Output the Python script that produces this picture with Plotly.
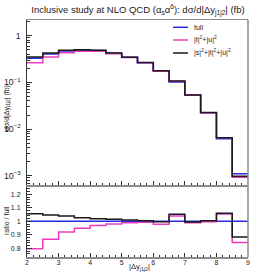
import plotly.graph_objects as go

# bin edges of |Δy_j1j2|
edges = [2.0, 2.5, 3.0, 3.5, 4.0, 4.5, 5.0, 5.5, 6.0, 6.5, 7.0, 7.5, 8.0, 8.5, 9.0]
# full cross section per bin (fb)
full = [0.33, 0.405, 0.47, 0.487, 0.48, 0.42, 0.344, 0.264, 0.178, 0.102, 0.054, 0.0225, 0.0062, 0.0011]
# ratios to full
ratio_tu = [0.797, 0.867, 0.921, 0.948, 0.970, 0.980, 0.990, 0.993, 0.978, 1.039, 0.990, 0.997, 1.054, 0.844]
ratio_stu = [1.056, 1.047, 1.039, 1.027, 1.019, 1.015, 1.010, 1.005, 0.997, 1.052, 0.995, 1.005, 1.059, 0.884]

tu = [f * r for f, r in zip(full, ratio_tu)]
stu = [f * r for f, r in zip(full, ratio_stu)]
ratio_full = [1.0] * len(full)

C_FULL = "rgb(40,40,235)"
C_TU = "rgb(235,60,190)"
C_STU = "rgb(25,25,25)"
FONT = "Liberation Sans, Arial, sans-serif"


def step(vals):
    return list(edges), list(vals) + [vals[-1]]


fig = go.Figure()
for vals, col, xa, ya in [
    (full, C_FULL, "x", "y"), (tu, C_TU, "x", "y"), (stu, C_STU, "x", "y"),
    (ratio_full, C_FULL, "x2", "y2"), (ratio_tu, C_TU, "x2", "y2"), (ratio_stu, C_STU, "x2", "y2"),
]:
    xs, ys = step(vals)
    fig.add_trace(go.Scatter(x=xs, y=ys, mode="lines", line=dict(color=col, width=1.5, shape="hv"),
                             xaxis=xa, yaxis=ya, showlegend=False, hoverinfo="skip"))

W, H = 276, 275
ml, mr, mt, mb = 27, 28, 20, 18
ph = H - mt - mb
pw = W - ml - mr
main_bot = (H - mb - 185) / ph
ratio_top = (H - mb - 187) / ph

tickfont = dict(family=FONT, size=7, color="#222")
xcommon = dict(range=[2, 9], showgrid=False, zeroline=False, ticks="inside", ticklen=4,
               tickcolor="#333", dtick=1, tick0=2, showline=True, linecolor="#8a8a8a", linewidth=1.5,
               mirror=True, minor=dict(ticks="inside", ticklen=2, dtick=0.2, tickcolor="#333", showgrid=False))

fig.update_layout(
    width=W, height=H, margin=dict(l=ml, r=mr, t=mt, b=mb, autoexpand=False),
    plot_bgcolor="white", paper_bgcolor="white",
    title=dict(text="Inclusive study at NLO QCD (α<sub>s</sub>α<sup>6</sup>): dσ/d|Δy<sub>j1j2</sub>| (fb)",
               x=0.5, xanchor="center", y=1 - 10 / H, yanchor="middle",
               font=dict(family=FONT, size=9.5, color="#222")),
    xaxis=dict(domain=[0, 1], anchor="y", showticklabels=False, **xcommon),
    xaxis2=dict(domain=[0, 1], anchor="y2", matches="x", showticklabels=True, tickfont=tickfont,
                ticklabelstandoff=-2, **xcommon),
    yaxis=dict(domain=[main_bot, 1], anchor="x", type="log", range=[-3.197, 0.336],
               dtick=1, exponentformat="power", showgrid=False, zeroline=False,
               ticks="inside", ticklen=5, tickcolor="#333", tickfont=tickfont, ticklabelstandoff=4,
               showline=True, linecolor="#333", linewidth=1,
               minor=dict(ticks="inside", ticklen=2.5, tickcolor="#333", showgrid=False)),
    yaxis2=dict(domain=[0, ratio_top], anchor="x2", range=[0.736, 1.254],
                tickvals=[0.8, 0.9, 1.0, 1.1, 1.2], ticktext=["0.8", "0.9", "1", "1.1", "1.2"],
                showgrid=False, zeroline=False, ticks="inside", ticklen=5, tickcolor="#333",
                tickfont=tickfont, ticklabelstandoff=4, showline=True, linecolor="#333", linewidth=1,
                minor=dict(ticks="inside", ticklen=2.5, dtick=0.02, tickcolor="#333", showgrid=False)),
)

# right frame edge (gray)
fig.add_shape(type="line", xref="paper", yref="paper", x0=1, x1=1, y0=0, y1=1,
              line=dict(color="#8a8a8a", width=1.5))

# axis titles
fig.add_annotation(text="dσ/d|Δy<sub>j1j2</sub>| (fb)", xref="paper", yref="paper",
                   x=(7 - ml) / pw, y=(H - mb - 108) / ph, textangle=-90, showarrow=False,
                   xanchor="center", yanchor="middle", font=dict(family=FONT, size=7, color="#222"))
fig.add_annotation(text="ratio / full", xref="paper", yref="paper",
                   x=(6 - ml) / pw, y=(H - mb - 221) / ph, textangle=-90, showarrow=False,
                   xanchor="center", yanchor="middle", font=dict(family=FONT, size=7, color="#222"))
fig.add_annotation(text="|Δy<sub>j1j2</sub>|", xref="paper", yref="paper",
                   x=(139 - ml) / pw, y=(H - mb - 267) / ph, showarrow=False,
                   xanchor="center", yanchor="middle", font=dict(family=FONT, size=7.5, color="#222"))

# legend
leg = [("full", C_FULL, 27.3), ("|t|<sup>2</sup>+|u|<sup>2</sup>", C_TU, 40.0),
       ("|s|<sup>2</sup>+|t|<sup>2</sup>+|u|<sup>2</sup>", C_STU, 53.0)]
for txt, col, yp in leg:
    yy = (H - mb - yp) / ph
    fig.add_shape(type="line", xref="paper", yref="paper", x0=(173 - ml) / pw, x1=(188 - ml) / pw,
                  y0=yy, y1=yy, line=dict(color=col, width=1.5))
    fig.add_annotation(text=txt, xref="paper", yref="paper", x=(192 - ml) / pw, y=yy,
                       showarrow=False, xanchor="left", yanchor="middle",
                       font=dict(family=FONT, size=7, color="#222"))

fig.write_html("out.html", config={"displayModeBar": False, "staticPlot": True},
               post_script="document.body.style.margin='0';document.body.style.overflow='hidden';")
